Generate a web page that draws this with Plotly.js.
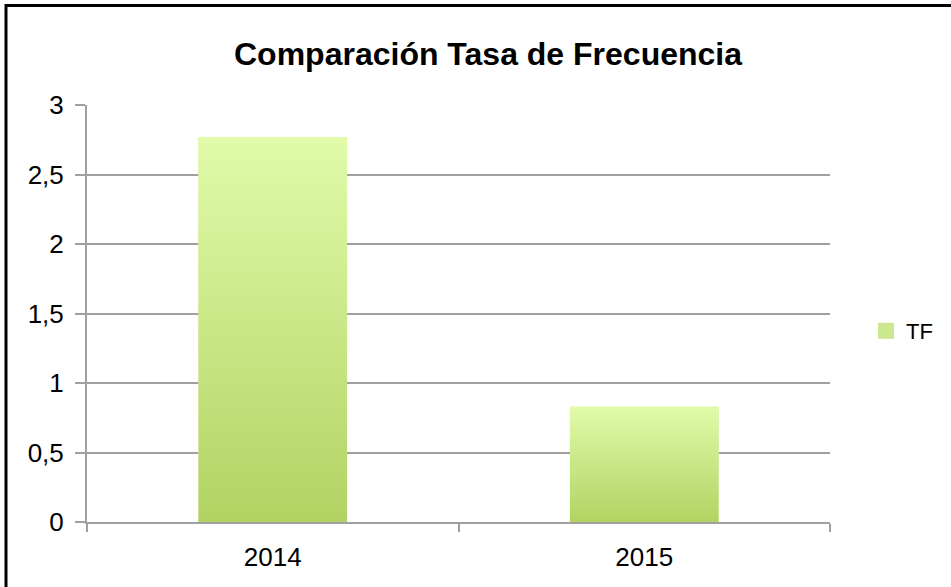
<!DOCTYPE html>
<html>
<head>
<meta charset="utf-8">
<script src="https://cdn.plot.ly/plotly-3.0.1.min.js"></script>
<style>html,body{margin:0;padding:0;background:#fff;}#chart{width:951px;height:587px;}</style>
</head>
<body>
<div id="chart"></div>
<script>
const categories = ['2014', '2015'];
const tfValues = [2.77, 0.83];
const seriesName = 'TF';
const yTickVals = [0, 0.5, 1, 1.5, 2, 2.5, 3];
const yTickText = ['0', '0,5', '1', '1,5', '2', '2,5', '3'];

const halfW = 0.2;
const idx = categories.map((c, i) => i);

const traces = [{
  type: 'bar',
  x: idx,
  y: tfValues,
  name: seriesName,
  legendgroup: 'tf',
  width: halfW * 2,
  marker: {color: '#cbe790', line: {width: 0}},
  hoverinfo: 'skip',
  showlegend: false
}];

// gradient overlays for each bar, built from the data
idx.forEach((i) => {
  const v = tfValues[i];
  traces.push({
    type: 'scatter',
    mode: 'none',
    x: [i - halfW, i + halfW, i + halfW, i - halfW, i - halfW],
    y: [0, 0, v, v, 0],
    fill: 'toself',
    fillgradient: {
      type: 'vertical',
      colorscale: [[0, '#b2d363'], [1, '#e1fbaa']]
    },
    legendgroup: 'tf',
    showlegend: false,
    hoverinfo: 'skip'
  });
});

// legend entry (larger square symbol)
traces.push({
  type: 'scatter',
  mode: 'markers',
  x: [null], y: [null],
  name: seriesName,
  legendgroup: 'tf',
  marker: {symbol: 'square', size: 16, color: '#cbe790', line: {width: 0}},
  showlegend: true,
  hoverinfo: 'skip'
});

const L = 87, R = 830, T = 105, B = 522, W = 951, H = 587;
const px2x = (p) => (p - L) / (R - L);
const px2y = (p) => (B - p) / (B - T);

const layout = {
  width: W, height: H,
  margin: {l: L, r: W - R, t: T, b: H - B},
  paper_bgcolor: '#ffffff',
  plot_bgcolor: '#ffffff',
  font: {family: 'Liberation Sans, Arial, sans-serif', color: '#000'},
  title: {
    text: '<b>Comparación Tasa de Frecuencia</b>',
    font: {size: 32, family: 'Liberation Sans, Arial, sans-serif', color: '#000'},
    x: px2x(488), xanchor: 'center', xref: 'paper',
    y: 1 - 54 / H, yanchor: 'middle'
  },
  xaxis: {
    range: [-0.5, 1.5],
    tickmode: 'array',
    tickvals: idx,
    ticktext: categories,
    ticks: '',
    showgrid: false,
    zeroline: false,
    showline: true,
    linecolor: '#a0a0a0',
    linewidth: 2,
    tickfont: {size: 26, family: 'Liberation Sans, Arial, sans-serif'},
    ticklabelstandoff: 11,
    minor: {
      tickmode: 'array',
      tickvals: [-0.5, 0.5, 1.5],
      ticks: 'outside',
      ticklen: 8,
      tickwidth: 2,
      tickcolor: '#a0a0a0',
      showgrid: false
    },
    fixedrange: true
  },
  yaxis: {
    range: [0, 3],
    tickmode: 'array',
    tickvals: yTickVals,
    ticktext: yTickText,
    ticks: 'outside',
    ticklen: 10,
    tickwidth: 2,
    tickcolor: '#a0a0a0',
    showgrid: true,
    gridcolor: '#a0a0a0',
    gridwidth: 2,
    zeroline: false,
    showline: true,
    linecolor: '#a0a0a0',
    linewidth: 2,
    tickfont: {size: 26, family: 'Liberation Sans, Arial, sans-serif'},
    ticklabelstandoff: 6,
    fixedrange: true
  },
  legend: {
    x: px2x(866), xanchor: 'left',
    y: px2y(331), yanchor: 'middle',
    font: {size: 22, family: 'Liberation Sans, Arial, sans-serif', color: '#000'},
    bgcolor: 'rgba(0,0,0,0)',
    itemwidth: 30,
    itemsizing: 'trace',
    tracegroupgap: 0
  },
  bargap: 0.6,
  shapes: [{
    type: 'rect', xref: 'paper', yref: 'paper', layer: 'above',
    x0: px2x(6), x1: px2x(960), y0: px2y(600), y1: px2y(5.5),
    line: {color: '#000', width: 3}, fillcolor: 'rgba(0,0,0,0)'
  }],
  showlegend: true
};

Plotly.newPlot('chart', traces, layout, {displayModeBar: false, staticPlot: true});
</script>
</body>
</html>
